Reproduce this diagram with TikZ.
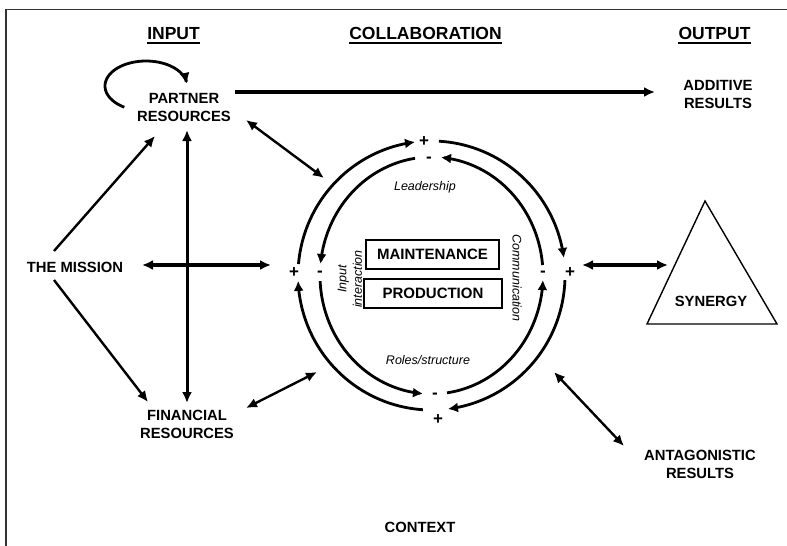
\documentclass[tikz,border=0pt]{standalone}
\usepackage{fontspec}
\setmainfont{Liberation Sans}
\usetikzlibrary{arrows.meta}
\begin{document}
\begin{tikzpicture}[x=1pt,y=-1pt,
  lbl/.style={font=\fontsize{14.8}{18}\selectfont\bfseries, align=center, inner sep=0pt},
  head/.style={font=\fontsize{17.5}{21}\selectfont\bfseries, inner sep=0pt, anchor=base},
  ital/.style={font=\fontsize{12.5}{15.5}\selectfont\itshape, inner sep=0pt, align=center},
  sign/.style={font=\fontsize{17}{17}\selectfont\bfseries, inner sep=0pt, anchor=base},
  boxed/.style={draw, line width=1.4pt, minimum height=29pt, inner sep=0pt,
                font=\fontsize{15}{18}\selectfont\bfseries},
  ringarc/.style={line width=2.8pt, -{Latex[length=10pt,width=10pt]}},
  heavy/.style={line width=3.8pt},
  medium/.style={line width=3pt},
  slim/.style={line width=2.4pt},
  tipE/.style={-{Latex[length=11pt,width=10pt]}},
  tipB/.style={{Latex[length=11pt,width=10pt]}-{Latex[length=11pt,width=10pt]}},
]
\useasboundingbox (0,0) rectangle (787,546);
\fill[white] (0,0) rectangle (787,546);

% frame
\draw[line width=1.5pt, black!80] (6,546) -- (6,9.5) -- (787,9.5);

% column headings
\node[head] (hin)  at (173.5,39.5) {INPUT};
\node[head] (hcol) at (425.5,39.5) {COLLABORATION};
\node[head] (hout) at (714.5,39.5) {OUTPUT};
\foreach \h in {hin,hcol,hout}
  \draw[line width=2pt] ([yshift=-3pt]\h.base west) -- ([yshift=-3pt]\h.base east);

% labels
\node[lbl] (partner)   at (184,107) {PARTNER\\RESOURCES};
\node[lbl] (additive)  at (718,94)  {ADDITIVE\\RESULTS};
\node[lbl] (mission)   at (75,267)  {THE MISSION};
\node[lbl] (financial) at (187,424) {FINANCIAL\\RESOURCES};
\node[lbl] (antag)     at (700,464) {ANTAGONISTIC\\RESULTS};
\node[lbl] (context)   at (420,527) {CONTEXT};

% synergy triangle
\draw[line width=1.4pt] (705,201) -- (647,324) -- (777,324) -- cycle;
\node[lbl] (synergy) at (711,301) {SYNERGY};

% collaboration core
\node[boxed, minimum width=133pt] (maint) at (432.5,254.5) {MAINTENANCE};
\node[boxed, minimum width=138pt] (prod)  at (433,293.5)   {PRODUCTION};
\node[ital, anchor=base] (lead)  at (425,190) {Leadership};
\node[ital, anchor=base] (roles) at (428,364) {Roles/structure};
\node[ital, rotate=-90] (comm)  at (517,278) {Communication};
\node[ital, rotate=90]  (inter) at (350,279) {Input\\interaction};

% outer loop (clockwise, positive)
\draw[ringarc] plot[domain=175.1:97.1, samples=50] ({431.5+133.5*cos(\x)},{275.5-134.5*sin(\x)});
\draw[ringarc] plot[domain=86.8:7.5,   samples=50] ({431.5+133.5*cos(\x)},{275.5-134.5*sin(\x)});
\draw[ringarc] plot[domain=-2:-82.9,   samples=50] ({431.5+133.5*cos(\x)},{275.5-134.5*sin(\x)});
\draw[ringarc] plot[domain=266.3:182.3,samples=50] ({431.5+133.5*cos(\x)},{275.5-134.5*sin(\x)});
% inner loop (counter-clockwise, negative)
\draw[ringarc] plot[domain=98.5:174.4, samples=50] ({431.5+111.5*cos(\x)},{275.5-118.5*sin(\x)});
\draw[ringarc] plot[domain=182.7:265.6,samples=50] ({431.5+111.5*cos(\x)},{275.5-118.5*sin(\x)});
\draw[ringarc] plot[domain=278:357.8,  samples=50] ({431.5+111.5*cos(\x)},{275.5-118.5*sin(\x)});
\draw[ringarc] plot[domain=5.1:85.1,   samples=50] ({431.5+111.5*cos(\x)},{275.5-118.5*sin(\x)});

% signs on the loops
\node[sign] (pT) at (424,146.5) {+};
\node[sign] (mT) at (429,162)   {-};
\node[sign] (pL) at (294,277.5) {+};
\node[sign] (mL) at (320,276)   {-};
\node[sign] (mR) at (543,276)   {-};
\node[sign] (pR) at (570,277.5) {+};
\node[sign] (mB) at (435,398.5) {-};
\node[sign] (pB) at (438,424.5) {+};

% connector ports
\coordinate (prE)  at (235,92);
\coordinate (adW)  at (655,92);
\coordinate (prS)  at (187,130);
\coordinate (fiN)  at (187,403);
\coordinate (prSE) at (246,120);
\coordinate (ringNW) at (324,178);
\coordinate (fiNE) at (246,408);
\coordinate (ringSW) at (317,372);
\coordinate (ringSE) at (554,372);
\coordinate (anNW) at (624,446);
\coordinate (miE)  at (142,265);
\coordinate (ringW) at (271,265);
\coordinate (ringE) at (582,265);
\coordinate (syW)  at (668,265);
\coordinate (miNE) at (54,251);
\coordinate (prSW) at (155,136);
\coordinate (miSE) at (54,280);
\coordinate (fiNW) at (148,402);

% connectors
\draw[heavy,tipE]  (prE) -- (adW);
\draw[medium,tipB] (prS) -- (fiN);
\draw[heavy,tipB]  (miE) -- (ringW);
\draw[heavy,tipB]  (ringE) -- (syW);
\draw[slim,tipB]   (prSE) -- (ringNW);
\draw[slim,tipB]   (fiNE) -- (ringSW);
\draw[slim,tipB]   (ringSE) -- (anNW);
\draw[slim,tipE]   (miNE) -- (prSW);
\draw[slim,tipE]   (miSE) -- (fiNW);

% self-reinforcing loop on partner resources
\draw[line width=2.8pt,tipE] plot[domain=238:5, samples=50] ({146+41*cos(\x)},{86-25*sin(\x)});
\end{tikzpicture}
\end{document}
